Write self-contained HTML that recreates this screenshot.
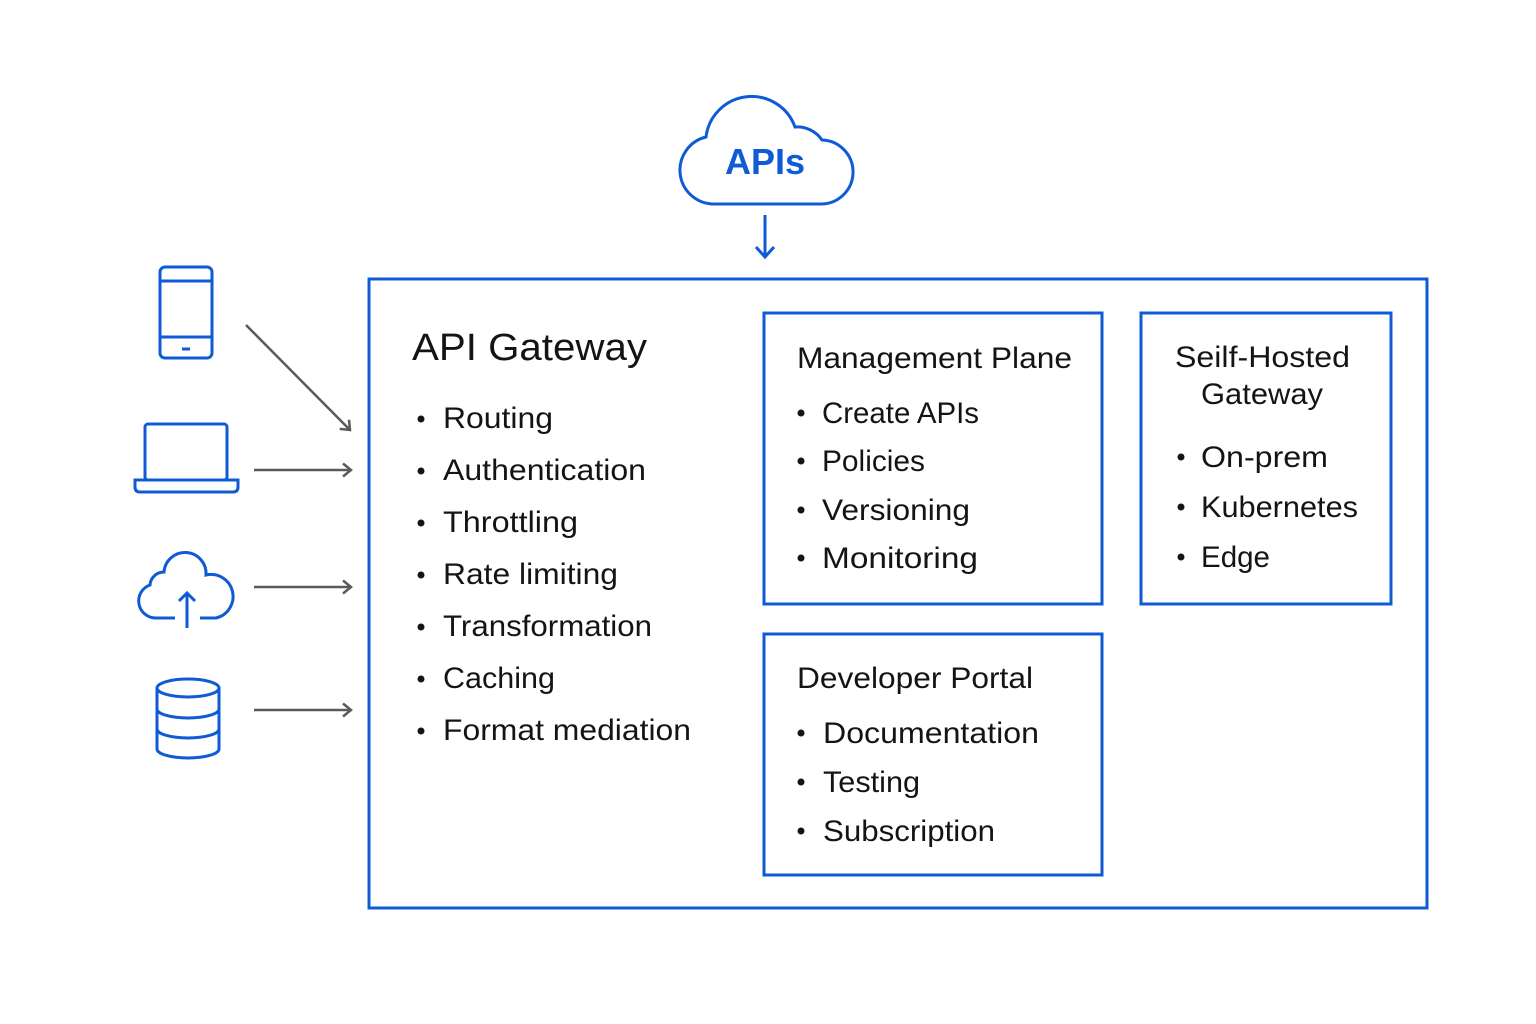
<!DOCTYPE html>
<html><head><meta charset="utf-8"><style>html,body{margin:0;padding:0;background:#fff}svg{display:block}text{font-family:"Liberation Sans","DejaVu Sans",sans-serif;fill:#141414}</style></head>
<body>
<svg width="1536" height="1024" viewBox="0 0 1536 1024" xmlns="http://www.w3.org/2000/svg">
<defs>
<marker id="ah" markerWidth="16" markerHeight="16" refX="12" refY="8" orient="auto" markerUnits="userSpaceOnUse"><path d="M4,1.5 L12,8 L4,14.5" fill="none" stroke="#5a5a5a" stroke-width="2.5"/></marker>
</defs>
<g fill="none" stroke="#0f5bd6" stroke-width="3">
<path d="M712,204 A34,34 0 0 1 706,137 A46,46 0 0 1 795,127 A30,30 0 0 1 822,140 A32,32 0 0 1 820,204 Z"/>
<line x1="765" y1="215" x2="765" y2="256"/><path d="M756,247 L765,257 L774,247"/>
<rect x="369" y="279" width="1058" height="629"/>
<rect x="764" y="313" width="338" height="291"/>
<rect x="1141" y="313" width="250" height="291"/>
<rect x="764" y="634" width="338" height="241"/>
<rect x="160" y="267" width="52" height="91" rx="5"/>
<line x1="160" y1="281" x2="212" y2="281"/><line x1="160" y1="337" x2="212" y2="337"/>
<line x1="182" y1="349" x2="190" y2="349"/>
<rect x="145" y="424" width="82" height="56" rx="3"/>
<path d="M135,480 H238 V487 Q238,492 233,492 H140 Q135,492 135,487 Z"/>
<path d="M175,618 H155 A17,17 0 0 1 150,585 A14,14 0 0 1 164,572 A21,21 0 0 1 206,575 A18,18 0 0 1 216,618 H200"/>
<line x1="187" y1="593" x2="187" y2="628"/><path d="M179,601 L187,593 L195,601"/>
<ellipse cx="188" cy="688" rx="31" ry="9"/>
<path d="M157,688 V749 A31,9 0 0 0 219,749 V688"/>
<path d="M157,709 A31,9 0 0 0 219,709"/><path d="M157,729 A31,9 0 0 0 219,729"/>
</g>
<text x="765" y="174" text-anchor="middle" font-size="36" font-weight="bold" style="fill:#0f5bd6">APIs</text>
<g stroke="#5a5a5a" stroke-width="2.5" marker-end="url(#ah)">
<line x1="246" y1="325" x2="350" y2="430"/>
<line x1="254" y1="470" x2="351" y2="470"/>
<line x1="254" y1="587" x2="351" y2="587"/>
<line x1="254" y1="710" x2="351" y2="710"/>
</g>
<text x="412" y="360" font-size="38" textLength="235" lengthAdjust="spacingAndGlyphs">API Gateway</text>
<g font-size="30">
<g fill="#141414"><circle cx="421" cy="419" r="3.5"/><circle cx="421" cy="471" r="3.5"/><circle cx="421" cy="523" r="3.5"/><circle cx="421" cy="575" r="3.5"/><circle cx="421" cy="627" r="3.5"/><circle cx="421" cy="679" r="3.5"/><circle cx="421" cy="731" r="3.5"/></g>
<text x="443" y="428" textLength="110" lengthAdjust="spacingAndGlyphs">Routing</text>
<text x="443" y="480" textLength="203" lengthAdjust="spacingAndGlyphs">Authentication</text>
<text x="443" y="532" textLength="135" lengthAdjust="spacingAndGlyphs">Throttling</text>
<text x="443" y="584" textLength="175" lengthAdjust="spacingAndGlyphs">Rate limiting</text>
<text x="443" y="636" textLength="209" lengthAdjust="spacingAndGlyphs">Transformation</text>
<text x="443" y="688" textLength="112" lengthAdjust="spacingAndGlyphs">Caching</text>
<text x="443" y="740" textLength="248" lengthAdjust="spacingAndGlyphs">Format mediation</text>
</g>
<text x="797" y="368" font-size="30" textLength="275" lengthAdjust="spacingAndGlyphs">Management Plane</text>
<g font-size="30">
<g fill="#141414"><circle cx="801" cy="413" r="3.5"/><circle cx="801" cy="461" r="3.5"/><circle cx="801" cy="510" r="3.5"/><circle cx="801" cy="558" r="3.5"/></g>
<text x="822" y="423" textLength="157" lengthAdjust="spacingAndGlyphs">Create APIs</text>
<text x="822" y="471" textLength="103" lengthAdjust="spacingAndGlyphs">Policies</text>
<text x="822" y="520" textLength="148" lengthAdjust="spacingAndGlyphs">Versioning</text>
<text x="822" y="568" textLength="156" lengthAdjust="spacingAndGlyphs">Monitoring</text>
</g>
<text x="1175" y="367" font-size="30" textLength="175" lengthAdjust="spacingAndGlyphs">Seilf-Hosted</text>
<text x="1201" y="404" font-size="30" textLength="122" lengthAdjust="spacingAndGlyphs">Gateway</text>
<g font-size="30">
<g fill="#141414"><circle cx="1181" cy="457" r="3.5"/><circle cx="1181" cy="507" r="3.5"/><circle cx="1181" cy="557" r="3.5"/></g>
<text x="1201" y="467" textLength="127" lengthAdjust="spacingAndGlyphs">On-prem</text>
<text x="1201" y="517" textLength="157" lengthAdjust="spacingAndGlyphs">Kubernetes</text>
<text x="1201" y="567" textLength="69" lengthAdjust="spacingAndGlyphs">Edge</text>
</g>
<text x="797" y="688" font-size="30" textLength="236" lengthAdjust="spacingAndGlyphs">Developer Portal</text>
<g font-size="30">
<g fill="#141414"><circle cx="801" cy="733" r="3.5"/><circle cx="801" cy="782" r="3.5"/><circle cx="801" cy="831" r="3.5"/></g>
<text x="823" y="743" textLength="216" lengthAdjust="spacingAndGlyphs">Documentation</text>
<text x="823" y="792" textLength="97" lengthAdjust="spacingAndGlyphs">Testing</text>
<text x="823" y="841" textLength="172" lengthAdjust="spacingAndGlyphs">Subscription</text>
</g>
</svg>
</body></html>
